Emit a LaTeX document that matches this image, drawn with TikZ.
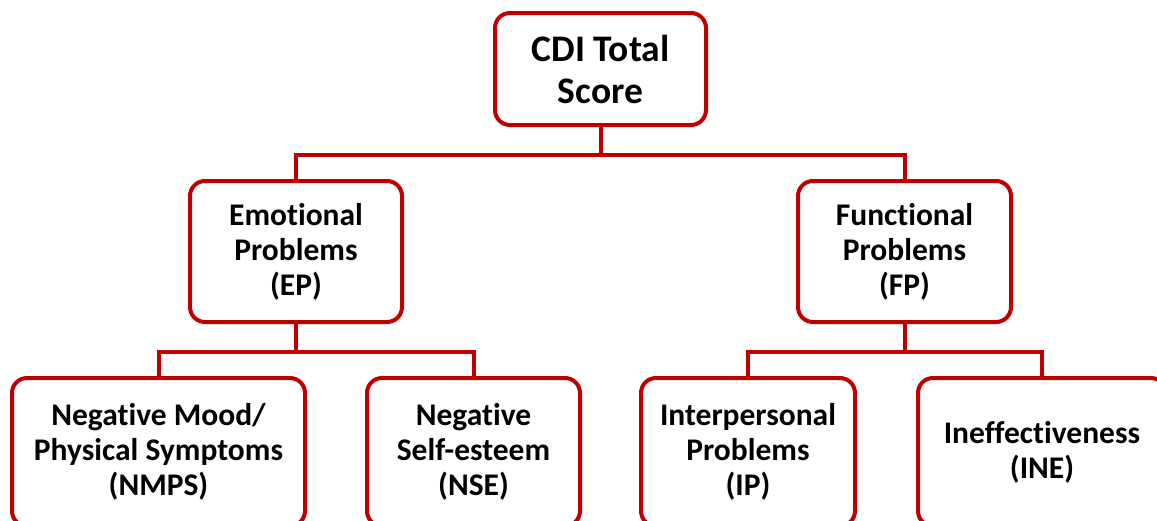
\documentclass[tikz,border=0pt]{standalone}
\usepackage{fontspec}
\setmainfont{Carlito}[RawFeature=-liga]
\usepackage{tikz}
\usetikzlibrary{positioning}

\definecolor{cdired}{RGB}{192,0,0}

\tikzset{
  scorebox/.style={draw=cdired, line width=4pt, rounded corners=15pt, fill=white,
    align=center, inner sep=0pt, font=\fontsize{31.5}{35}\selectfont\bfseries},
  link/.style={draw=cdired, line width=4pt}
}

\begin{document}
\begin{tikzpicture}[x=1pt, y=-1pt]
    \useasboundingbox (0,0) rectangle (1157,520);
    \clip (0,0) rectangle (1157,520);
    % top level
    \node[scorebox, minimum width=211pt, minimum height=112pt,
          font=\fontsize{37.5}{42}\selectfont\bfseries] (CDI) at (600.5,69) {CDI Total\\Score};
    % factors
    \node[scorebox, minimum width=212pt, minimum height=141pt] (EP) at (296,251.5) {Emotional\\Problems\\(EP)};
    \node[scorebox, minimum width=213pt, minimum height=141pt] (FP) at (904.5,251.5) {Functional\\Problems\\(FP)};
    % subscales
    \node[scorebox, minimum width=293pt, minimum height=148pt] (NMPS) at (158.5,452) {Negative Mood/\\Physical Symptoms\\(NMPS)};
    \node[scorebox, minimum width=213pt, minimum height=148pt] (NSE) at (473.5,452) {Negative\\Self-esteem\\(NSE)};
    \node[scorebox, minimum width=214pt, minimum height=148pt] (IP) at (748,452) {Interpersonal\\Problems\\(IP)};
    \node[scorebox, minimum width=248pt, minimum height=148pt] (INE) at (1042,452) {Ineffectiveness\\(INE)};
    % connectors
    \draw[link] (CDI.south) -- ++(0,28) coordinate (busA) -| (EP.north);
    \draw[link] (busA) -| (FP.north);
    \draw[link] (EP.south) -- ++(0,28) coordinate (busB) -| (NMPS.north);
    \draw[link] (busB) -| (NSE.north);
    \draw[link] (FP.south) -- ++(0,28) coordinate (busC) -| (IP.north);
    \draw[link] (busC) -| (INE.north);
\end{tikzpicture}
\end{document}
